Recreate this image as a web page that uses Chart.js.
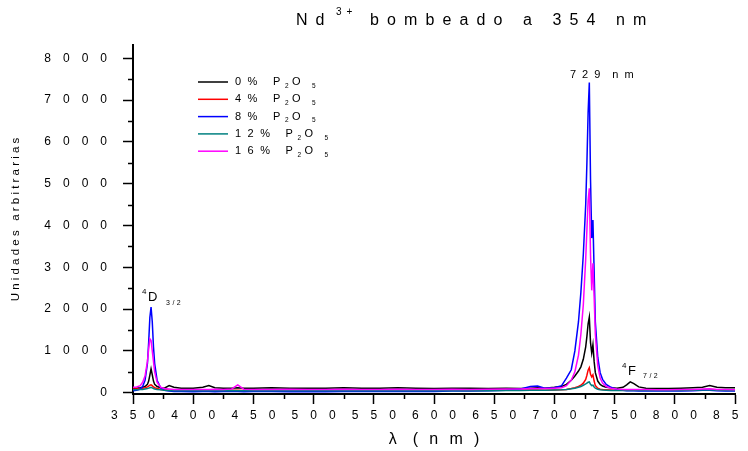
<!DOCTYPE html>
<html lang="es">
<head>
<meta charset="utf-8">
<title>Nd3+ bombeado a 354 nm</title>
<script src="https://cdn.jsdelivr.net/npm/chart.js@4.4.1/dist/chart.umd.min.js"></script>
<style>
  html, body { margin: 0; padding: 0; background: #fff; }
  #contenedor { width: 748px; height: 451px; }
</style>
</head>
<body>
<div id="contenedor"><canvas id="grafico"></canvas></div>
<script>
// =====================
// Datos
// =====================
const longitudes = [
  350, 353, 356, 358, 360, 362, 363, 364, 365, 366, 367, 368, 370, 373, 376,
  380, 384, 390, 400, 408, 413, 418, 425, 432, 437, 442, 450, 465, 480, 495, 510,
  525, 540, 555, 570, 585, 600, 615, 630, 645, 660, 672, 680, 686, 692, 700,
  706, 710, 714, 717, 720, 722, 724, 726, 727, 728, 729, 730, 731, 732, 733, 734,
  736, 738, 740, 743, 747,
  752, 757, 760, 763, 766, 770, 776, 785, 795, 805, 815, 823, 829, 835, 842, 850
];

const p0 = [
  110, 110, 120, 130, 150, 200, 280, 420, 570, 430, 280, 200, 150, 120, 110,
  170, 130, 110, 110, 130, 170, 120, 110, 110, 120, 110, 110, 120, 110, 110, 110,
  120, 110, 110, 120, 110, 100, 110, 110, 100, 110, 100, 110, 120, 110, 130,
  150, 200, 300, 400, 520, 620, 800, 1100, 1350, 1650, 1810, 1200, 950, 1150, 750, 480,
  280, 200, 160, 130, 120,
  110, 130, 190, 260, 220, 140, 110, 100, 100, 110, 120, 130, 170, 130, 120, 120
];

const p4 = [
  90, 90, 100, 110, 120, 140, 160, 180, 190, 170, 140, 120, 100, 80, 70,
  60, 60, 60, 55, 60, 60, 55, 60, 60, 60, 55, 60, 60, 55, 60, 60,
  60, 55, 60, 60, 55, 60, 60, 55, 60, 60, 60, 65, 65, 60, 65,
  70, 80, 100, 120, 150, 180, 230, 320, 420, 540, 600, 440, 380, 430, 280, 170,
  110, 85, 75, 70, 65,
  60, 60, 60, 60, 60, 60, 60, 60, 60, 60, 65, 70, 80, 70, 65, 60
];

const p8 = [
  50, 60, 90, 150, 300, 700, 1200, 1800, 2050, 1700, 1100, 700, 300, 120, 60,
  40, 30, 30, 25, 30, 30, 25, 30, 30, 30, 25, 30, 30, 25, 30, 25,
  30, 30, 35, 30, 35, 30, 40, 40, 50, 60, 90, 150, 160, 110, 120,
  170, 350, 550, 1000, 1700, 2400, 3300, 4500, 5500, 6700, 7420, 5100, 3700, 4130, 2900, 1700,
  850, 480, 320, 200, 130,
  80, 60, 50, 50, 45, 40, 40, 40, 40, 40, 45, 60, 60, 50, 40, 40
];

const p12 = [
  70, 70, 75, 80, 90, 100, 110, 120, 130, 115, 100, 90, 80, 70, 60,
  55, 50, 50, 50, 50, 50, 50, 50, 55, 50, 50, 55, 50, 50, 55, 50,
  50, 55, 50, 50, 55, 50, 50, 55, 50, 55, 55, 60, 60, 60, 65,
  70, 80, 95, 110, 130, 150, 180, 210, 230, 250, 260, 200, 170, 180, 140, 110,
  85, 70, 65, 60, 55,
  55, 55, 55, 55, 55, 55, 55, 55, 55, 55, 60, 65, 70, 60, 55, 55
];

const p16 = [
  130, 140, 170, 250, 400, 750, 1050, 1290, 1250, 1000, 750, 500, 250, 130, 100,
  90, 80, 80, 80, 80, 80, 85, 80, 90, 190, 85, 80, 80, 85, 80, 80,
  85, 80, 80, 85, 80, 80, 85, 80, 85, 90, 90, 100, 100, 100, 110,
  120, 170, 300, 500, 900, 1400, 2100, 3200, 3900, 4600, 4890, 3300, 2450, 3100, 2300, 1400,
  650, 350, 230, 150, 110,
  90, 80, 75, 75, 75, 75, 75, 70, 70, 75, 80, 90, 95, 80, 75, 70
];

const porcentajes = ["0", "4", "8", "12", "16"];
const series = [p0, p4, p8, p12, p16];
const colores = ["#000000", "#ff0000", "#0000ff", "#008080", "#ff00ff"];

const ticksX = [350, 400, 450, 500, 550, 600, 650, 700, 750, 800, 850];
const ticksY = [0, 1000, 2000, 3000, 4000, 5000, 6000, 7000, 8000];

// =====================
// Funciones auxiliares
// =====================
const fuente = "'Liberation Sans', Arial, sans-serif";

function espaciar(v) {
  return String(v).split("").join("\u2003");
}

// escribe letra por letra con separación extra
function escribir(ctx, texto, x, y, tam, sep) {
  ctx.font = tam + "px " + fuente;
  for (const c of texto) {
    if (c !== " ") ctx.fillText(c, x, y);
    x += ctx.measureText(c).width + sep;
  }
  return x;
}

// =====================
// Plugin: marcas menores
// =====================
const marcasMenores = {
  id: "marcasMenores",
  afterDraw(chart) {
    const { ctx, scales: { x, y } } = chart;
    ctx.save();
    ctx.strokeStyle = "#000";
    ctx.lineWidth = 1.5;
    ctx.beginPath();
    for (let v = 500; v < y.max; v += 1000) {
      const py = Math.round(y.getPixelForValue(v)) + 0.5;
      ctx.moveTo(x.left - 5, py);
      ctx.lineTo(x.left, py);
    }
    for (let v = 375; v < x.max; v += 50) {
      const px = Math.round(x.getPixelForValue(v)) + 0.5;
      ctx.moveTo(px, y.bottom);
      ctx.lineTo(px, y.bottom + 5);
    }
    ctx.stroke();
    ctx.restore();
  }
};

// =====================
// Plugin: título, leyenda y anotaciones
// =====================
const textos = {
  id: "textos",
  afterDraw(chart) {
    const { ctx } = chart;
    ctx.save();
    ctx.fillStyle = "#000";
    ctx.textBaseline = "middle";
    ctx.textAlign = "left";

    // título
    let x = escribir(ctx, "Nd", 296, 21, 16, 8);
    escribir(ctx, "3+", 336, 12, 10, 5);
    escribir(ctx, "bombeado a 354 nm", 370, 21, 16, 8.1);

    // leyenda
    porcentajes.forEach((p, i) => {
      const ly = 82 + i * 17.3;
      ctx.strokeStyle = colores[i];
      ctx.lineWidth = 1.5;
      ctx.beginPath();
      ctx.moveTo(198, ly);
      ctx.lineTo(228, ly);
      ctx.stroke();
      let tx = escribir(ctx, p + "%", 235, ly, 11, 6.5);
      tx = escribir(ctx, "P", tx + 9, ly, 11, 4.7);
      tx = escribir(ctx, "2", tx, ly + 4, 6.5, 3.4);
      tx = escribir(ctx, "O", tx, ly, 11, 11.4);
      escribir(ctx, "5", tx, ly + 4, 6.5, 0);
    });

    // anotaciones
    x = escribir(ctx, "729", 570, 75, 11, 6);
    escribir(ctx, "nm", x + 6, 75, 11, 6);

    escribir(ctx, "4", 142, 292, 8, 0);
    escribir(ctx, "D", 148, 297, 13, 0);
    escribir(ctx, "3/2", 166, 303, 7, 2.5);

    escribir(ctx, "4", 622, 366, 8, 0);
    escribir(ctx, "F", 628, 371, 13, 0);
    escribir(ctx, "7/2", 643, 376, 7, 2.5);

    ctx.restore();
  }
};

// =====================
// Gráfico
// =====================
const conjuntos = series.map((s, i) => ({
  label: porcentajes[i] + " % P2O5",
  data: longitudes.map((l, k) => ({ x: l, y: s[k] })),
  borderColor: colores[i],
  backgroundColor: colores[i],
  borderWidth: 1.5,
  pointRadius: 0,
  tension: 0,
  order: 4 - i
}));

new Chart(document.getElementById("grafico"), {
  type: "line",
  data: { datasets: conjuntos },
  options: {
    responsive: true,
    maintainAspectRatio: false,
    animation: false,
    layout: { padding: { top: 45, right: 13, left: 0, bottom: 0 } },
    plugins: {
      legend: { display: false },
      tooltip: { enabled: false },
      title: { display: false }
    },
    scales: {
      x: {
        type: "linear",
        min: 350,
        max: 850,
        afterBuildTicks(s) {
          s.ticks = ticksX.map(v => ({ value: v }));
        },
        ticks: {
          padding: 4,
          color: "#000",
          maxRotation: 0,
          autoSkip: false,
          font: { family: fuente, size: 12 },
          callback: v => espaciar(v)
        },
        grid: { drawOnChartArea: false, tickLength: 10, tickColor: "#000", tickWidth: 1.5 },
        border: { color: "#000", width: 2 },
        title: {
          display: true,
          text: "λ\u2003(\u2002\u2009n\u2002\u2009m\u2002\u2009)",
          color: "#000",
          font: { family: fuente, size: 16 },
          padding: { top: 0, bottom: 2 }
        },
        afterFit(s) {
          s.height = 57;
          s.paddingLeft = 0;
          s.paddingRight = 0;
        }
      },
      y: {
        min: -30,
        max: 8320,
        afterBuildTicks(s) {
          s.ticks = ticksY.map(v => ({ value: v }));
        },
        ticks: {
          padding: 16,
          color: "#000",
          font: { family: fuente, size: 12 },
          callback: v => espaciar(v)
        },
        grid: { drawOnChartArea: false, tickLength: 10, tickColor: "#000", tickWidth: 1.5 },
        border: { color: "#000", width: 2 },
        title: {
          display: true,
          text: "U n i d a d e s   a r b i t r a r i a s",
          color: "#000",
          font: { family: fuente, size: 11.5 },
          padding: { top: 9, bottom: 0 }
        },
        afterFit(s) {
          s.width = 133;
        }
      }
    }
  },
  plugins: [marcasMenores, textos]
});
</script>
</body>
</html>
